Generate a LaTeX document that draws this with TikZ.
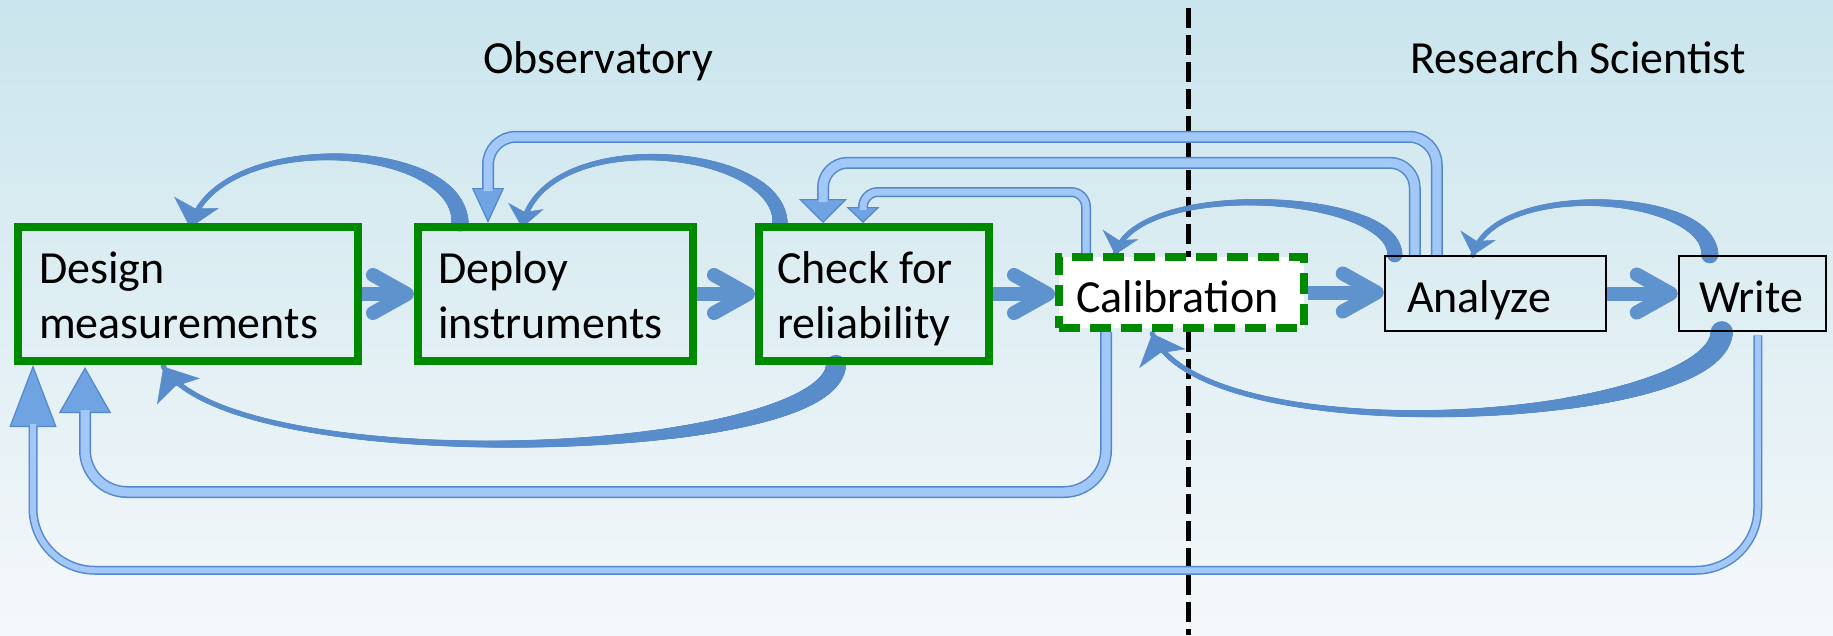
\documentclass[tikz,border=0pt]{standalone}
\usepackage{fontspec}
\setmainfont{Carlito}
\usetikzlibrary{arrows.meta,decorations.markings,calc}
\definecolor{gboxc}{RGB}{0,138,0}
\definecolor{sblue}{RGB}{94,147,205}
\definecolor{cblue}{RGB}{88,140,203}
\definecolor{tline}{RGB}{84,136,204}
\definecolor{tfill}{RGB}{162,200,247}
\definecolor{thead}{RGB}{112,163,226}
\definecolor{bgtop}{RGB}{202,229,237}
\definecolor{bgmid}{RGB}{226,240,244}
\definecolor{bgbot}{RGB}{245,248,250}
\pgfdeclarelayer{bglayer}
\pgfdeclarelayer{midlayer}
\pgfsetlayers{bglayer,midlayer,main}
\newcommand\lineA{\rule{0pt}{45pt}}
\newcommand\lineB{\rule[-12pt]{0pt}{12pt}}
\newcommand\calstrut{\rule[-6pt]{0pt}{51pt}}
\newcommand\boxstrut{\rule[-8pt]{0pt}{53pt}}
% #1 path, #2 outer lw, #3 inner lw, #4 head length, #5 head width, #6 shorten, #7 corner radius
\newcommand\tubeconn[7]{%
  \draw[draw=tline, line width=#2, rounded corners=#7,
        -{Triangle[length=#4,width=#5,fill=thead,color=tline,line width=1.2pt]}] #1;
  \draw[draw=tfill, line width=#3, rounded corners=#7, shorten >=#6] #1;}
\tikzset{
  boxtext/.style={font=\fontsize{46}{55}\selectfont, align=flush left, inner ysep=0pt, anchor=center},
  greenbox/.style={boxtext, draw=gboxc, line width=8pt, minimum height=134pt},
  calbox/.style={boxtext, draw=gboxc, fill=white, line width=8pt, dash pattern=on 21pt off 10pt, minimum height=71pt},
  blackbox/.style={boxtext, draw=black, line width=2.5pt, minimum height=75pt},
  titletext/.style={font=\fontsize{46}{55}\selectfont, anchor=base, inner sep=0pt},
  straightarrow/.style={draw=sblue, line width=14pt, -{Straight Barb[length=34pt,width=38pt,round]}},
  taper/.style n args={3}{
     postaction={decorate, decoration={markings,
        mark=between positions 0 and 1 step 0.8pt with {%
          \pgfmathsetmacro\tprad{2.6+#1*(1-\pgfkeysvalueof{/pgf/decoration/mark info/distance from start}/\pgfdecoratedpathlength)^3}%
          \fill[cblue] (0,0) circle[radius=\tprad pt];}}},
     postaction={decorate, decoration={markings,
        mark=at position 0.999 with {\arrow[cblue]{Stealth[length=#2,width=#3,inset=6pt,line width=0.5pt]}}}}},
  divider/.style={draw=black, line width=5pt, dash pattern=on 20pt off 7pt}
}
\begin{document}
\begin{tikzpicture}[x=1pt,y=-1pt]
\useasboundingbox (0,0) rectangle (1833,635);
\begin{pgfonlayer}{bglayer}
  \shade[top color=bgtop, middle color=bgmid, bottom color=bgbot] (0,0) rectangle (1833,635);
  \coordinate (divtop) at (1188,8);
  \coordinate (divbot) at (1188,635);
  \draw[divider] (divtop) -- (divbot);
\end{pgfonlayer}

\node[titletext] (obs) at (598,73) {Observatory};
\node[titletext] (rs) at (1578,73) {Research Scientist};

\node[greenbox, minimum width=340pt, inner xsep=21pt, text width=298pt] (design) at (188,294) {\lineA Design\\measurements\lineB};
\node[greenbox, minimum width=275pt, inner xsep=20pt, text width=235pt] (deploy) at (555.5,294) {\lineA Deploy\\instruments\lineB};
\node[greenbox, minimum width=230pt, inner xsep=18pt, text width=194pt] (check) at (874,294) {\lineA Check for\\reliability\lineB};
\node[calbox, minimum width=245pt, inner xsep=17pt, text width=211pt] (calib) at (1181.5,292.5) {\calstrut Calibration};
\node[blackbox, minimum width=221pt, inner xsep=22pt, text width=177pt] (analyze) at (1495.5,293.5) {\boxstrut Analyze};
\node[blackbox, minimum width=147pt, inner xsep=20pt, text width=107pt] (write) at (1752.5,293.5) {\boxstrut Write};

\begin{pgfonlayer}{midlayer}
  \path[taper={6}{26pt}{46pt}] ([xshift=46pt]deploy.north west) .. controls +(0,-83) and +(25,-100) .. ([xshift=176pt,yshift=-5pt]design.north west);
  \path[taper={5}{22pt}{36pt}] ([xshift=25pt]check.north west) .. controls +(0,-78) and +(18,-104) .. ([xshift=108pt,yshift=-5pt]deploy.north west);
  \path[taper={5}{21pt}{37pt}] ([xshift=11pt]analyze.north west) .. controls +(0,-63) and +(20,-77) .. ([xshift=60pt,yshift=-2pt]calib.north west);
  \path[taper={6}{21pt}{37pt}] ([xshift=32pt]write.north west) .. controls +(0,-63) and +(20,-77) .. ([xshift=89pt,yshift=-1pt]analyze.north west);
  \path[taper={7.5}{29pt}{50pt}] ([xshift=81pt]check.south west) .. controls +(-6,95) and +(67,114) .. ([xshift=149pt,yshift=-1pt]design.south west);
  \path[taper={8.5}{27pt}{50pt}] ([xshift=44pt]write.south west) .. controls +(-6,93) and +(48,122) .. ([xshift=97pt,yshift=-1pt]calib.south west);
\end{pgfonlayer}

\draw[straightarrow] (design.east) -- (deploy.west);
\draw[straightarrow] (deploy.east) -- (check.west);
\draw[straightarrow] (check.east) -- (check.east -| calib.west);
\draw[straightarrow] (calib.east) -- (calib.east -| analyze.west);
\draw[straightarrow] (analyze.east) -- (write.west);

\tubeconn{([xshift=53pt]analyze.north west) -- ++(0,-118) -| ([xshift=74pt]deploy.north west)}{12pt}{9pt}{35pt}{32pt}{32pt}{28pt}
\tubeconn{([xshift=31pt]analyze.north west) -- ++(0,-92) -| ([xshift=68pt]check.north west)}{12pt}{9pt}{24pt}{48pt}{21pt}{25pt}
\tubeconn{([xshift=31pt]calib.north west) -- ++(0,-61) -| ([xshift=108pt]check.north west)}{10pt}{7pt}{16pt}{33pt}{13pt}{15pt}
\tubeconn{([xshift=51pt]calib.south west) -- ++(0,160) -| ([xshift=71pt,yshift=-2pt]design.south west)}{12pt}{9pt}{46pt}{52pt}{43pt}{42pt}
\tubeconn{([xshift=80pt,yshift=-3pt]write.south west) -- ++(0,235) -| ([xshift=19pt]design.south west)}{9pt}{6pt}{62pt}{47pt}{59pt}{62pt}
\end{tikzpicture}
\end{document}
